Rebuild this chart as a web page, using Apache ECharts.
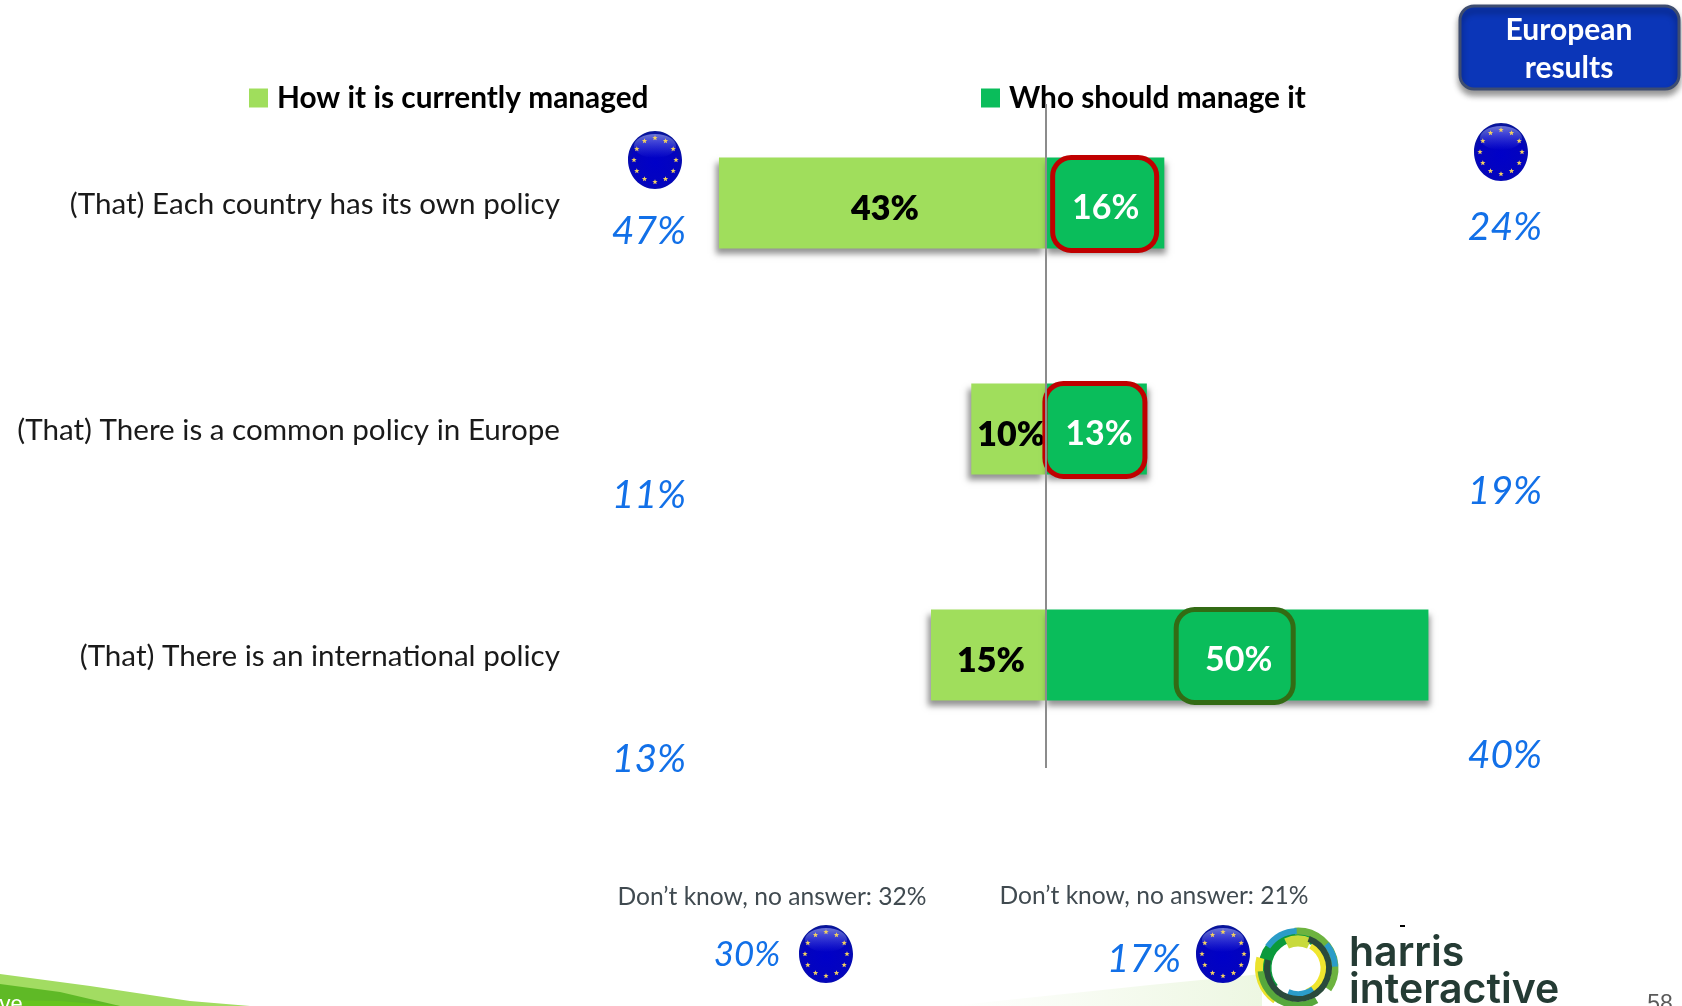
<!DOCTYPE html>
<html><head><meta charset="utf-8">
<style>html,body{margin:0;padding:0;background:#fff;overflow:hidden}#c{width:1682px;height:1006px}</style>
<script src="https://cdn.jsdelivr.net/npm/echarts@6/dist/echarts.min.js"></script>
</head><body><div id="c"></div>
<script>
const categories = ["(That) Each country has its own policy", "(That) There is a common policy in Europe", "(That) There is an international policy"];
const seriesNames = ["How it is currently managed", "Who should manage it"];
const currentValues = [42.9, 9.7, 15];
const shouldValues = [15.7, 13.4, 50.45];
const europeCurrent = [47, 11, 13];
const europeShould = [24, 19, 40];
const dontKnow = [32, 21];
const europeDontKnow = [30, 17];
const highlightColors = ["#C00000", "#C00000", "#336B14"];
const highlightWidths = [99, 95, 112];
const highlightOffsets = [0, -1, -2];
const textShifts = [1, 4, 4];

const FONT = "Lato";
const LIGHT = "#A0DE5C", DARK = "#0ABD5B", BLUE = "#1270E8";
const chart = echarts.init(document.getElementById("c"), null, {renderer: "canvas"});
const shadow = {shadowColor: "rgba(0,0,0,0.42)", shadowBlur: 6, shadowOffsetX: -3, shadowOffsetY: 5};

function flag(cx, cy) {
  const kids = [{
    type: "ellipse", z: 20, shape: {cx: 0, cy: 0, rx: 27, ry: 29},
    style: {fill: {type: "radial", x: .5, y: .55, r: .62, colorStops: [
      {offset: 0, color: "#0000C8"}, {offset: .7, color: "#0404BE"}, {offset: 1, color: "#0A1C8C"}]}}
  }, {
    type: "ellipse", z: 21, shape: {cx: 0, cy: -14, rx: 21, ry: 12},
    style: {fill: {type: "linear", x: 0, y: 0, x2: 0, y2: 1, colorStops: [
      {offset: 0, color: "rgba(190,200,255,.55)"}, {offset: 1, color: "rgba(120,130,255,0)"}]}}
  }];
  for (let i = 0; i < 12; i++) {
    const a = i * Math.PI / 6, sx = Math.sin(a) * 21, sy = -Math.cos(a) * 22, pts = [];
    for (let k = 0; k < 10; k++) {
      const r = k % 2 ? 1.2 : 2.8, b = k * Math.PI / 5;
      pts.push([sx + Math.sin(b) * r, sy - Math.cos(b) * r]);
    }
    kids.push({type: "polygon", z: 22, shape: {points: pts}, style: {fill: "#F2D060"}});
  }
  return {type: "group", x: cx, y: cy, children: kids};
}
function txt(text, x, y, size, fill, extra) {
  return {type: "text", x, y, z: 30, style: Object.assign({
    text, fontFamily: FONT, fontSize: size, fill, align: "center", verticalAlign: "middle"}, extra || {})};
}
function pct(v, x, y, size) {
  return txt(v + "%", x, y, size || 39, BLUE, {fontStyle: "italic"});
}
function arc(r, a0, a1, color, w) {
  return {type: "arc", x: 1298, y: 968, z: 25, shape: {cx: 0, cy: 0, r, startAngle: a0 * Math.PI / 180, endAngle: a1 * Math.PI / 180, clockwise: true},
    style: {stroke: color, lineWidth: w, fill: "none"}};
}
const decor = [
  // footer swooshes
  {type: "polygon", z: 1, shape: {points: [[950, 1006], [1150, 985], [1262, 974], [1262, 1006]]},
    style: {fill: {type: "linear", x: 0, y: 0, x2: 1, y2: 0, colorStops: [{offset: 0, color: "#FFFFFF"}, {offset: 1, color: "#EDF7E2"}]}}},
  {type: "polygon", z: 1, shape: {points: [[0, 974], [90, 986], [190, 1001], [250, 1006], [0, 1006]]}, style: {fill: "#A2DC62"}},
  {type: "polygon", z: 2, shape: {points: [[0, 984], [60, 992], [120, 1006], [0, 1006]]}, style: {fill: "#5FB926"}},
  {type: "polygon", z: 2, shape: {points: [[0, 1000], [60, 1001], [120, 1006], [0, 1006]]}, style: {fill: "#66C41E"}},
  txt("ve", 11, 1005, 22, "#FFFFFF", {fontFamily: "Liberation Sans"}),
  // results tag
  {type: "rect", z: 20, shape: {x: 1460, y: 6, width: 219, height: 83, r: 14},
    style: {fill: "#0B36B8", stroke: "#3E4D70", lineWidth: 3, shadowColor: "rgba(0,0,0,.4)", shadowBlur: 6, shadowOffsetY: 5}},
  txt("European", 1569, 30, 30, "#FFFFFF", {fontWeight: 700}),
  txt("results", 1569, 68, 30, "#FFFFFF", {fontWeight: 700}),
  flag(655, 160), flag(1501, 152), flag(826, 954), flag(1223, 954),
  txt("Don\u2019t know, no answer: " + dontKnow[0] + "%", 772, 897, 24.6, "#404A50"),
  txt("Don\u2019t know, no answer: " + dontKnow[1] + "%", 1154, 896, 24.6, "#404A50"),
  pct(europeDontKnow[0], 747, 955, 35), pct(europeDontKnow[1], 1144, 959),
  // logo
  arc(33, 140, 300, "#0A9A3C", 13),
  arc(37, 265, 395, "#6DB33F", 7),
  arc(39, 125, 195, "#EBE22C", 8),
  arc(28, 300, 430, "#F0E62E", 11),
  arc(27, 245, 295, "#C8DA3C", 11),
  arc(37, 60, 175, "#57A83C", 7),
  arc(37, 215, 268, "#2B9CC8", 6),
  arc(37, 320, 358, "#2B9CC8", 6),
  arc(27, 55, 112, "#2B9CC8", 8),
  arc(31, 290, 555, "#2A4A3C", 6),
  {type: "rect", z: 25, shape: {x: 1400, y: 925, width: 5, height: 2}, style: {fill: "#000"}},
  txt("harris", 1349, 954, 41, "#243B34", {align: "left", fontFamily: "Inter", fontWeight: 600}),
  txt("interactive", 1349, 991, 41, "#243B34", {align: "left", fontFamily: "Inter", fontWeight: 600}),
  txt("58", 1660, 1005, 23, "#5A5A5A", {fontFamily: "Liberation Sans"})
];
[216, 462, 708].forEach((y, i) => decor.push(pct(europeCurrent[i], 649, y * 1.0727)));
[212, 458, 704].forEach((y, i) => decor.push(pct(europeShould[i], 1505, y * 1.0727)));

function legendOf(name, left) {
  return {data: [name], left, top: 83, itemWidth: 19, itemHeight: 19, icon: "rect", padding: 0,
    selectedMode: false, textStyle: {fontFamily: FONT, fontSize: 29.8, fontWeight: 700, color: "#000", padding: [0, 0, 0, 4], height: 30, lineHeight: 30}};
}
const bar = {type: "bar", stack: "s", barWidth: 91, barCategoryGap: 0};
chart.setOption({
  animation: false, backgroundColor: "#FFFFFF",
  legend: [legendOf(seriesNames[0], 249), legendOf(seriesNames[1], 981)],
  grid: {left: 589, top: 90, width: 912, height: 678, containLabel: false},
  xAxis: {type: "value", min: -60, max: 60, show: false},
  yAxis: {type: "category", data: categories, inverse: true, position: "left",
    axisLine: {show: false}, axisTick: {show: false}, splitLine: {show: false},
    axisLabel: {margin: 29, formatter: "{l|{value}}",
      rich: {l: {fontFamily: FONT, fontSize: 29.6, color: "#1A1A1A", padding: [2, 0, 0, 0]}}}},
  series: [
    Object.assign({}, bar, {name: seriesNames[0], data: currentValues.map(v => -v), z: 3,
      itemStyle: Object.assign({color: LIGHT}, shadow),
      label: {show: true, position: "inside", offset: [3, 6], fontFamily: FONT, fontWeight: 800, fontSize: 34, color: "#000",
        formatter: p => Math.round(Math.abs(p.value)) + "%"}}),
    Object.assign({}, bar, {name: seriesNames[1], z: 4,
      itemStyle: Object.assign({color: DARK}, shadow, {shadowOffsetX: 2}),
      data: shouldValues.map((v, i) => ({value: v, label: {
        show: true, position: "inside", offset: [highlightOffsets[i], 1], formatter: "{t|" + Math.round(v) + "%}",
        rich: {t: {fontFamily: FONT, fontWeight: 700, fontSize: 34, color: "#FFF", lineHeight: 96}},
        backgroundColor: DARK, borderColor: highlightColors[i], borderWidth: 5, borderRadius: 16,
        padding: [0, 0, 0, 2 * textShifts[i]], width: highlightWidths[i] - 2 * textShifts[i], height: 88,
        align: "center", verticalAlign: "middle"
      }}))})
  ],
  graphic: decor
});
const zeroX = chart.convertToPixel({xAxisIndex: 0}, 0) + 1;
decor.push({type: "line", z: 50, shape: {x1: zeroX, y1: 104, x2: zeroX, y2: 768}, style: {stroke: "#8C8C8C", lineWidth: 2}});
chart.setOption({graphic: decor});
</script></body></html>
